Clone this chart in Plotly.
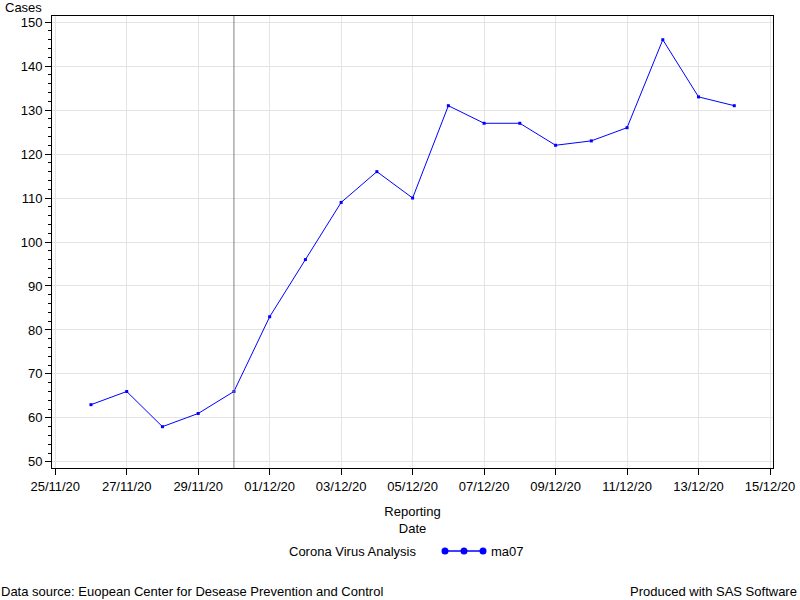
import plotly.graph_objects as go

dates = ["2020-11-26", "2020-11-27", "2020-11-28", "2020-11-29", "2020-11-30",
         "2020-12-01", "2020-12-02", "2020-12-03", "2020-12-04", "2020-12-05",
         "2020-12-06", "2020-12-07", "2020-12-08", "2020-12-09", "2020-12-10",
         "2020-12-11", "2020-12-12", "2020-12-13", "2020-12-14"]
ma07 = [63, 66, 58, 61, 66, 83, 96, 109, 116, 110, 131, 127, 127, 122, 123, 126, 146, 133, 131]
ref_date = "2020-11-30"

FONT = "Liberation Sans, Arial, sans-serif"
FS = 13

PL, PR, PT, PB = 52, 773, 16, 468
PW, PH = PR - PL, PB - PT


def px(x):
    return (x - PL) / PW


def py(y):
    return (PB - y) / PH


fig = go.Figure()
fig.add_trace(go.Scatter(
    x=dates, y=ma07, mode="lines+markers", name="ma07",
    line=dict(color="#0000FF", width=1),
    marker=dict(color="#0000FF", size=3, symbol="square"),
    showlegend=False,
))

fig.add_vline(x=ref_date, line=dict(color="#808080", width=1))

fig.update_layout(
    width=800, height=600,
    margin=dict(l=PL, r=800 - PR, t=PT, b=600 - PB, autoexpand=False),
    paper_bgcolor="white", plot_bgcolor="white",
    font=dict(family=FONT, size=FS, color="black"),
    xaxis=dict(
        type="date", range=["2020-11-24 21:50", "2020-12-15 02:00"],
        tick0="2020-11-25", dtick=2 * 86400000, tickformat="%d/%m/%y",
        showgrid=True, gridcolor="#E4E4E4", gridwidth=1,
        ticks="outside", ticklen=6, tickcolor="black",
        showline=True, linecolor="black", linewidth=1, mirror=True,
        zeroline=False, tickfont=dict(size=FS), automargin=False,
        title=dict(text="Reporting<br>Date", font=dict(size=FS), standoff=14),
    ),
    yaxis=dict(
        range=[48.6, 151.4], tick0=50, dtick=10,
        showgrid=True, gridcolor="#E4E4E4", gridwidth=1,
        ticks="outside", ticklen=6, tickcolor="black",
        minor=dict(dtick=2, ticks="outside", ticklen=3, tickcolor="black", showgrid=False),
        showline=True, linecolor="black", linewidth=1, mirror=True,
        zeroline=False, tickfont=dict(size=FS), automargin=False,
    ),
    annotations=[
        dict(text="Cases", xref="paper", yref="paper", x=px(3), y=py(8),
             xanchor="left", yanchor="middle", showarrow=False, font=dict(size=FS)),
        dict(text="Corona Virus Analysis", xref="paper", yref="paper",
             x=px(287), y=py(551), xanchor="left", yanchor="middle",
             showarrow=False, font=dict(size=FS)),
        dict(text="ma07", xref="paper", yref="paper",
             x=px(489), y=py(551), xanchor="left", yanchor="middle",
             showarrow=False, font=dict(size=FS)),
        dict(text="Data source: Euopean Center for Desease Prevention and Control",
             xref="paper", yref="paper", x=px(-1), y=py(591),
             xanchor="left", yanchor="middle", showarrow=False, font=dict(size=FS)),
        dict(text="Produced with SAS Software",
             xref="paper", yref="paper", x=px(799), y=py(591),
             xanchor="right", yanchor="middle", showarrow=False, font=dict(size=FS)),
    ],
)

# legend symbol: line with three dots
ly = py(551)
lx = [px(445), px(464), px(483)]
fig.add_shape(type="line", xref="paper", yref="paper", x0=lx[0], x1=lx[2], y0=ly, y1=ly,
              line=dict(color="#0000FF", width=1.5))
for xv in lx:
    fig.add_shape(type="circle", xref="paper", yref="paper",
                  x0=xv - 3.5 / PW, x1=xv + 3.5 / PW, y0=ly - 3.5 / PH, y1=ly + 3.5 / PH,
                  fillcolor="#0000FF", line=dict(color="#0000FF", width=0))

fig.write_html("out.html", config={"displayModeBar": False},
               post_script="document.body.style.margin='0';")
